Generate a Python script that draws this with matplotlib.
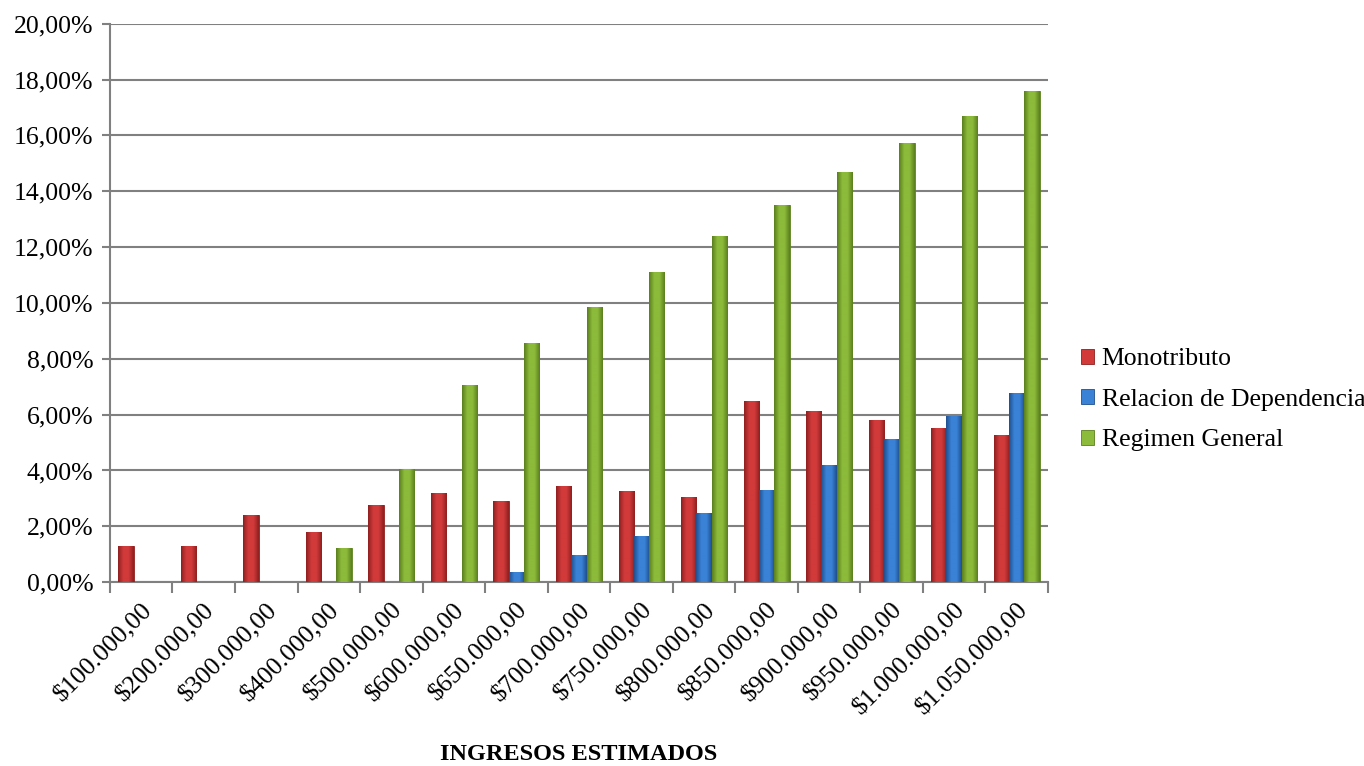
import numpy as np
import matplotlib.pyplot as plt
from matplotlib.colors import LinearSegmentedColormap

# ingresos estimados (categorias)
categorias = ["$100.000,00", "$200.000,00", "$300.000,00", "$400.000,00", "$500.000,00",
              "$600.000,00", "$650.000,00", "$700.000,00", "$750.000,00", "$800.000,00",
              "$850.000,00", "$900.000,00", "$950.000,00", "$1.000.000,00", "$1.050.000,00"]

# porcentajes
monotributo = [1.30, 1.30, 2.42, 1.80, 2.78, 3.18, 2.92, 3.46, 3.26, 3.05,
               6.50, 6.14, 5.80, 5.52, 5.26]
relacion_dep = [0.0, 0.0, 0.0, 0.0, 0.0, 0.0, 0.36, 0.99, 1.67, 2.48,
                3.30, 4.20, 5.11, 5.96, 6.78]
regimen_gral = [0.0, 0.0, 0.0, 1.22, 4.07, 7.06, 8.56, 9.87, 11.12, 12.40,
                13.50, 14.68, 15.72, 16.70, 17.60]

series = ["Monotributo", "Relacion de Dependencia", "Regimen General"]
colores = ["#d23a3a", "#3a82d6", "#8cba3a"]
oscuros = ["#8e1f1f", "#1f4f8e", "#5a7f1e"]

plt.rcParams['font.family'] = ['Liberation Serif', 'DejaVu Serif']

fig = plt.figure(figsize=(13.64, 7.66), dpi=100)
ax = fig.add_axes([0.0806, 0.240, 0.6877, 0.729])

x = np.arange(len(categorias))
w = 0.245
datos = [monotributo, relacion_dep, regimen_gral]

for i, vals in enumerate(datos):
    bars = ax.bar(x + (i - 1) * w, vals, width=w, color=colores[i],
                  edgecolor=oscuros[i], linewidth=0.6, zorder=3, label=series[i])
    # sombreado tipo cilindro
    cmap = LinearSegmentedColormap.from_list("c%d" % i, [oscuros[i], colores[i], colores[i], oscuros[i]])
    grad = np.linspace(0, 1, 64).reshape(1, -1)
    for b in bars:
        if b.get_height() <= 0:
            continue
        bx, by = b.get_x(), b.get_y()
        im = ax.imshow(grad, cmap=cmap, aspect='auto', zorder=3.5,
                       extent=[bx, bx + b.get_width(), by, by + b.get_height()])
        im.set_clip_path(b)

ax.set_xlim(-0.5, len(categorias) - 0.5)
ax.set_ylim(0, 20)
ax.set_yticks(np.arange(0, 21, 2))
ax.set_yticklabels(["%d,00%%" % v for v in range(0, 21, 2)], fontsize=18.5)
ax.yaxis.grid(True, color="#808080", linewidth=1.5, zorder=0)

ax.set_xticks(x)
ax.set_xticklabels(categorias, rotation=45, ha='right', rotation_mode='anchor', fontsize=18.5)
ax.set_xticks(np.arange(-0.5, len(categorias)), minor=True)
ax.tick_params(axis='x', which='major', length=0, pad=12)
ax.tick_params(axis='x', which='minor', length=8, color="#808080", width=1.5)
ax.tick_params(axis='y', length=6, color="#808080", width=1.5, pad=6)

for s in ["top", "right"]:
    ax.spines[s].set_visible(False)
for s in ["left", "bottom"]:
    ax.spines[s].set_color("#808080")
    ax.spines[s].set_linewidth(1.5)

ax.set_xlabel("INGRESOS ESTIMADOS", fontsize=17.5, fontweight='bold', labelpad=18)

leg = ax.legend(loc='center left', bbox_to_anchor=(0.785, 0.478), bbox_transform=fig.transFigure,
                frameon=False, fontsize=18.5, handlelength=0.5, handleheight=0.5,
                handletextpad=0.3, labelspacing=0.72, borderaxespad=0)

fig.savefig("out.png", dpi=100)
